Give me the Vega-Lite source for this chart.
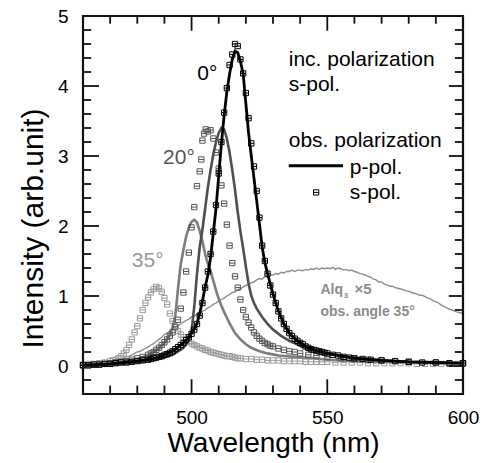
{
  "$schema": "https://vega.github.io/schema/vega-lite/v6.json",
  "width": 380,
  "height": 378,
  "autosize": "none",
  "padding": {"left": 83, "top": 16, "right": 30, "bottom": 69},
  "background": "white",
  "config": {"view": {"stroke": null}, "font": "Liberation Sans"},
  "datasets": {
    "xmajor": [{"t": 500}, {"t": 550}],
    "xminor": [{"t": 470}, {"t": 480}, {"t": 490}, {"t": 510}, {"t": 520}, {"t": 530}, {"t": 540}, {"t": 560}, {"t": 570}, {"t": 580}, {"t": 590}],
    "ymajor": [{"t": 0}, {"t": 1}, {"t": 2}, {"t": 3}, {"t": 4}],
    "yminor": [{"t": -0.2}, {"t": 0.2}, {"t": 0.4}, {"t": 0.6}, {"t": 0.8}, {"t": 1.2}, {"t": 1.4}, {"t": 1.6}, {"t": 1.8}, {"t": 2.2}, {"t": 2.4}, {"t": 2.6}, {"t": 2.8}, {"t": 3.2}, {"t": 3.4}, {"t": 3.6}, {"t": 3.8}, {"t": 4.2}, {"t": 4.4}, {"t": 4.6}, {"t": 4.8}],
    "spectra": [
      {"s":"alq","wl":460,"v":0.02},{"s":"alq","wl":461,"v":0.02},{"s":"alq","wl":462,"v":0.03},{"s":"alq","wl":463,"v":0.02},{"s":"alq","wl":464,"v":0.03},{"s":"alq","wl":465,"v":0.03},{"s":"alq","wl":466,"v":0.04},{"s":"alq","wl":467,"v":0.04},{"s":"alq","wl":468,"v":0.05},{"s":"alq","wl":469,"v":0.05},
      {"s":"alq","wl":470,"v":0.06},{"s":"alq","wl":471,"v":0.07},{"s":"alq","wl":472,"v":0.08},{"s":"alq","wl":473,"v":0.09},{"s":"alq","wl":474,"v":0.1},{"s":"alq","wl":475,"v":0.12},{"s":"alq","wl":476,"v":0.13},{"s":"alq","wl":477,"v":0.14},{"s":"alq","wl":478,"v":0.16},{"s":"alq","wl":479,"v":0.18},
      {"s":"alq","wl":480,"v":0.2},{"s":"alq","wl":481,"v":0.21},{"s":"alq","wl":482,"v":0.23},{"s":"alq","wl":483,"v":0.25},{"s":"alq","wl":484,"v":0.27},{"s":"alq","wl":485,"v":0.3},{"s":"alq","wl":486,"v":0.32},{"s":"alq","wl":487,"v":0.35},{"s":"alq","wl":488,"v":0.38},{"s":"alq","wl":489,"v":0.41},
      {"s":"alq","wl":490,"v":0.45},{"s":"alq","wl":491,"v":0.47},{"s":"alq","wl":492,"v":0.5},{"s":"alq","wl":493,"v":0.52},{"s":"alq","wl":494,"v":0.56},{"s":"alq","wl":495,"v":0.58},{"s":"alq","wl":496,"v":0.6},{"s":"alq","wl":497,"v":0.63},{"s":"alq","wl":498,"v":0.65},{"s":"alq","wl":499,"v":0.67},
      {"s":"alq","wl":500,"v":0.7},{"s":"alq","wl":501,"v":0.71},{"s":"alq","wl":502,"v":0.74},{"s":"alq","wl":503,"v":0.76},{"s":"alq","wl":504,"v":0.78},{"s":"alq","wl":505,"v":0.8},{"s":"alq","wl":506,"v":0.83},{"s":"alq","wl":507,"v":0.85},{"s":"alq","wl":508,"v":0.88},{"s":"alq","wl":509,"v":0.9},
      {"s":"alq","wl":510,"v":0.93},{"s":"alq","wl":511,"v":0.95},{"s":"alq","wl":512,"v":0.97},{"s":"alq","wl":513,"v":1.0},{"s":"alq","wl":514,"v":1.02},{"s":"alq","wl":515,"v":1.05},{"s":"alq","wl":516,"v":1.06},{"s":"alq","wl":517,"v":1.09},{"s":"alq","wl":518,"v":1.1},{"s":"alq","wl":519,"v":1.13},
      {"s":"alq","wl":520,"v":1.15},{"s":"alq","wl":521,"v":1.16},{"s":"alq","wl":522,"v":1.19},{"s":"alq","wl":523,"v":1.2},{"s":"alq","wl":524,"v":1.23},{"s":"alq","wl":525,"v":1.25},{"s":"alq","wl":526,"v":1.24},{"s":"alq","wl":527,"v":1.28},{"s":"alq","wl":528,"v":1.27},{"s":"alq","wl":529,"v":1.3},
      {"s":"alq","wl":530,"v":1.3},{"s":"alq","wl":531,"v":1.32},{"s":"alq","wl":532,"v":1.31},{"s":"alq","wl":533,"v":1.34},{"s":"alq","wl":534,"v":1.33},{"s":"alq","wl":535,"v":1.35},{"s":"alq","wl":536,"v":1.35},{"s":"alq","wl":537,"v":1.37},{"s":"alq","wl":538,"v":1.35},{"s":"alq","wl":539,"v":1.37},
      {"s":"alq","wl":540,"v":1.37},{"s":"alq","wl":541,"v":1.36},{"s":"alq","wl":542,"v":1.38},{"s":"alq","wl":543,"v":1.37},{"s":"alq","wl":544,"v":1.39},{"s":"alq","wl":545,"v":1.38},{"s":"alq","wl":546,"v":1.4},{"s":"alq","wl":547,"v":1.38},{"s":"alq","wl":548,"v":1.4},{"s":"alq","wl":549,"v":1.39},
      {"s":"alq","wl":550,"v":1.4},{"s":"alq","wl":551,"v":1.39},{"s":"alq","wl":552,"v":1.41},{"s":"alq","wl":553,"v":1.38},{"s":"alq","wl":554,"v":1.4},{"s":"alq","wl":555,"v":1.39},{"s":"alq","wl":556,"v":1.37},{"s":"alq","wl":557,"v":1.38},{"s":"alq","wl":558,"v":1.36},{"s":"alq","wl":559,"v":1.37},
      {"s":"alq","wl":560,"v":1.35},{"s":"alq","wl":561,"v":1.34},{"s":"alq","wl":562,"v":1.32},{"s":"alq","wl":563,"v":1.31},{"s":"alq","wl":564,"v":1.3},{"s":"alq","wl":565,"v":1.28},{"s":"alq","wl":566,"v":1.27},{"s":"alq","wl":567,"v":1.24},{"s":"alq","wl":568,"v":1.23},{"s":"alq","wl":569,"v":1.2},
      {"s":"alq","wl":570,"v":1.2},{"s":"alq","wl":571,"v":1.17},{"s":"alq","wl":572,"v":1.16},{"s":"alq","wl":573,"v":1.14},{"s":"alq","wl":574,"v":1.14},{"s":"alq","wl":575,"v":1.12},{"s":"alq","wl":576,"v":1.11},{"s":"alq","wl":577,"v":1.1},{"s":"alq","wl":578,"v":1.09},{"s":"alq","wl":579,"v":1.07},
      {"s":"alq","wl":580,"v":1.07},{"s":"alq","wl":581,"v":1.05},{"s":"alq","wl":582,"v":1.04},{"s":"alq","wl":583,"v":1.03},{"s":"alq","wl":584,"v":1.01},{"s":"alq","wl":585,"v":1.01},{"s":"alq","wl":586,"v":0.99},{"s":"alq","wl":587,"v":0.97},{"s":"alq","wl":588,"v":0.96},{"s":"alq","wl":589,"v":0.93},
      {"s":"alq","wl":590,"v":0.92},{"s":"alq","wl":591,"v":0.9},{"s":"alq","wl":592,"v":0.87},{"s":"alq","wl":593,"v":0.85},{"s":"alq","wl":594,"v":0.83},{"s":"alq","wl":595,"v":0.81},{"s":"alq","wl":596,"v":0.8},{"s":"alq","wl":597,"v":0.78},{"s":"alq","wl":598,"v":0.77},{"s":"alq","wl":599,"v":0.76},{"s":"alq","wl":600,"v":0.75},

      {"s":"s35","wl":460,"v":0.02},{"s":"s35","wl":462,"v":0.03},{"s":"s35","wl":464,"v":0.03},{"s":"s35","wl":466,"v":0.04},{"s":"s35","wl":468,"v":0.05},{"s":"s35","wl":470,"v":0.07},{"s":"s35","wl":471,"v":0.08},{"s":"s35","wl":472,"v":0.09},{"s":"s35","wl":473,"v":0.11},{"s":"s35","wl":474,"v":0.14},
      {"s":"s35","wl":475,"v":0.18},{"s":"s35","wl":476,"v":0.23},{"s":"s35","wl":477,"v":0.3},{"s":"s35","wl":478,"v":0.38},{"s":"s35","wl":479,"v":0.48},{"s":"s35","wl":480,"v":0.57},{"s":"s35","wl":481,"v":0.68},{"s":"s35","wl":482,"v":0.8},{"s":"s35","wl":483,"v":0.9},{"s":"s35","wl":484,"v":0.98},
      {"s":"s35","wl":485,"v":1.05},{"s":"s35","wl":486,"v":1.1},{"s":"s35","wl":487,"v":1.13},{"s":"s35","wl":488,"v":1.11},{"s":"s35","wl":489,"v":1.06},{"s":"s35","wl":490,"v":0.97},{"s":"s35","wl":491,"v":0.88},{"s":"s35","wl":492,"v":0.75},{"s":"s35","wl":493,"v":0.64},{"s":"s35","wl":494,"v":0.56},
      {"s":"s35","wl":495,"v":0.5},{"s":"s35","wl":496,"v":0.45},{"s":"s35","wl":497,"v":0.41},{"s":"s35","wl":498,"v":0.38},{"s":"s35","wl":499,"v":0.35},{"s":"s35","wl":500,"v":0.32},{"s":"s35","wl":501,"v":0.3},{"s":"s35","wl":502,"v":0.28},{"s":"s35","wl":503,"v":0.26},{"s":"s35","wl":504,"v":0.25},
      {"s":"s35","wl":505,"v":0.23},{"s":"s35","wl":506,"v":0.22},{"s":"s35","wl":507,"v":0.2},{"s":"s35","wl":508,"v":0.19},{"s":"s35","wl":509,"v":0.18},{"s":"s35","wl":510,"v":0.17},{"s":"s35","wl":511,"v":0.16},{"s":"s35","wl":512,"v":0.15},{"s":"s35","wl":513,"v":0.14},{"s":"s35","wl":514,"v":0.14},
      {"s":"s35","wl":515,"v":0.13},{"s":"s35","wl":516,"v":0.12},{"s":"s35","wl":517,"v":0.11},{"s":"s35","wl":518,"v":0.11},{"s":"s35","wl":520,"v":0.1},{"s":"s35","wl":522,"v":0.1},{"s":"s35","wl":524,"v":0.09},{"s":"s35","wl":526,"v":0.09},{"s":"s35","wl":528,"v":0.08},{"s":"s35","wl":530,"v":0.08},
      {"s":"s35","wl":532,"v":0.08},{"s":"s35","wl":534,"v":0.07},{"s":"s35","wl":536,"v":0.07},{"s":"s35","wl":538,"v":0.07},{"s":"s35","wl":540,"v":0.07},{"s":"s35","wl":542,"v":0.06},{"s":"s35","wl":544,"v":0.06},{"s":"s35","wl":546,"v":0.06},{"s":"s35","wl":548,"v":0.06},{"s":"s35","wl":550,"v":0.06},
      {"s":"s35","wl":553,"v":0.05},{"s":"s35","wl":556,"v":0.05},{"s":"s35","wl":559,"v":0.05},{"s":"s35","wl":562,"v":0.05},{"s":"s35","wl":565,"v":0.04},{"s":"s35","wl":568,"v":0.04},{"s":"s35","wl":571,"v":0.04},{"s":"s35","wl":574,"v":0.04},{"s":"s35","wl":577,"v":0.04},{"s":"s35","wl":580,"v":0.04},
      {"s":"s35","wl":583,"v":0.03},{"s":"s35","wl":586,"v":0.03},{"s":"s35","wl":589,"v":0.03},{"s":"s35","wl":592,"v":0.03},{"s":"s35","wl":595,"v":0.03},{"s":"s35","wl":598,"v":0.03},{"s":"s35","wl":600,"v":0.03},

      {"s":"p35","wl":460,"v":0.01},{"s":"p35","wl":465,"v":0.02},{"s":"p35","wl":470,"v":0.04},{"s":"p35","wl":475,"v":0.06},{"s":"p35","wl":480,"v":0.1},{"s":"p35","wl":485,"v":0.17},{"s":"p35","wl":488,"v":0.25},{"s":"p35","wl":490,"v":0.33},{"s":"p35","wl":492,"v":0.45},{"s":"p35","wl":493,"v":0.55},
      {"s":"p35","wl":494,"v":0.72},{"s":"p35","wl":495,"v":1.1},{"s":"p35","wl":496,"v":1.45},{"s":"p35","wl":497,"v":1.66},{"s":"p35","wl":498,"v":1.85},{"s":"p35","wl":499,"v":1.98},{"s":"p35","wl":500,"v":2.06},{"s":"p35","wl":501,"v":2.09},{"s":"p35","wl":502,"v":2.05},{"s":"p35","wl":503,"v":1.93},
      {"s":"p35","wl":504,"v":1.78},{"s":"p35","wl":505,"v":1.6},{"s":"p35","wl":506,"v":1.46},{"s":"p35","wl":507,"v":1.36},{"s":"p35","wl":508,"v":1.22},{"s":"p35","wl":509,"v":1.08},{"s":"p35","wl":510,"v":0.96},{"s":"p35","wl":511,"v":0.86},{"s":"p35","wl":512,"v":0.77},{"s":"p35","wl":513,"v":0.69},
      {"s":"p35","wl":514,"v":0.61},{"s":"p35","wl":515,"v":0.54},{"s":"p35","wl":516,"v":0.47},{"s":"p35","wl":518,"v":0.38},{"s":"p35","wl":520,"v":0.31},{"s":"p35","wl":522,"v":0.26},{"s":"p35","wl":525,"v":0.21},{"s":"p35","wl":528,"v":0.18},{"s":"p35","wl":532,"v":0.15},{"s":"p35","wl":538,"v":0.13},
      {"s":"p35","wl":545,"v":0.11},{"s":"p35","wl":550,"v":0.09},{"s":"p35","wl":560,"v":0.07},{"s":"p35","wl":570,"v":0.06},{"s":"p35","wl":580,"v":0.05},{"s":"p35","wl":590,"v":0.04},{"s":"p35","wl":600,"v":0.04},

      {"s":"s20","wl":460,"v":0.01},{"s":"s20","wl":462,"v":0.01},{"s":"s20","wl":464,"v":0.02},{"s":"s20","wl":466,"v":0.02},{"s":"s20","wl":468,"v":0.03},{"s":"s20","wl":470,"v":0.04},{"s":"s20","wl":472,"v":0.05},{"s":"s20","wl":474,"v":0.06},{"s":"s20","wl":476,"v":0.07},{"s":"s20","wl":478,"v":0.09},
      {"s":"s20","wl":480,"v":0.11},{"s":"s20","wl":482,"v":0.13},{"s":"s20","wl":484,"v":0.16},{"s":"s20","wl":485,"v":0.18},{"s":"s20","wl":486,"v":0.2},{"s":"s20","wl":487,"v":0.23},{"s":"s20","wl":488,"v":0.26},{"s":"s20","wl":489,"v":0.3},{"s":"s20","wl":490,"v":0.34},{"s":"s20","wl":491,"v":0.38},
      {"s":"s20","wl":492,"v":0.43},{"s":"s20","wl":493,"v":0.48},{"s":"s20","wl":494,"v":0.56},{"s":"s20","wl":495,"v":0.66},{"s":"s20","wl":496,"v":0.82},{"s":"s20","wl":497,"v":1.05},{"s":"s20","wl":498,"v":1.35},{"s":"s20","wl":499,"v":1.62},{"s":"s20","wl":500,"v":1.98},{"s":"s20","wl":501,"v":2.27},
      {"s":"s20","wl":502,"v":2.57},{"s":"s20","wl":503,"v":2.78},{"s":"s20","wl":503.6,"v":2.95},{"s":"s20","wl":504,"v":3.22},{"s":"s20","wl":504.6,"v":3.32},{"s":"s20","wl":505.2,"v":3.38},{"s":"s20","wl":506,"v":3.35},{"s":"s20","wl":507,"v":3.37},{"s":"s20","wl":508,"v":3.25},{"s":"s20","wl":509,"v":3.05},
      {"s":"s20","wl":510,"v":2.82},{"s":"s20","wl":511,"v":2.58},{"s":"s20","wl":512,"v":2.32},{"s":"s20","wl":513,"v":2.02},{"s":"s20","wl":514,"v":1.72},{"s":"s20","wl":515,"v":1.47},{"s":"s20","wl":516,"v":1.28},{"s":"s20","wl":517,"v":1.12},{"s":"s20","wl":518,"v":0.95},{"s":"s20","wl":519,"v":0.8},
      {"s":"s20","wl":520,"v":0.7},{"s":"s20","wl":521,"v":0.62},{"s":"s20","wl":522,"v":0.55},{"s":"s20","wl":523,"v":0.48},{"s":"s20","wl":524,"v":0.43},{"s":"s20","wl":525,"v":0.39},{"s":"s20","wl":526,"v":0.36},{"s":"s20","wl":527,"v":0.33},{"s":"s20","wl":528,"v":0.31},{"s":"s20","wl":529,"v":0.29},
      {"s":"s20","wl":530,"v":0.28},{"s":"s20","wl":532,"v":0.25},{"s":"s20","wl":534,"v":0.23},{"s":"s20","wl":536,"v":0.21},{"s":"s20","wl":538,"v":0.2},{"s":"s20","wl":540,"v":0.18},{"s":"s20","wl":543,"v":0.16},{"s":"s20","wl":546,"v":0.15},{"s":"s20","wl":550,"v":0.13},{"s":"s20","wl":555,"v":0.11},
      {"s":"s20","wl":560,"v":0.1},{"s":"s20","wl":565,"v":0.09},{"s":"s20","wl":570,"v":0.08},{"s":"s20","wl":580,"v":0.06},{"s":"s20","wl":590,"v":0.05},{"s":"s20","wl":600,"v":0.04},

      {"s":"p20","wl":460,"v":0.01},{"s":"p20","wl":465,"v":0.01},{"s":"p20","wl":470,"v":0.02},{"s":"p20","wl":475,"v":0.03},{"s":"p20","wl":480,"v":0.05},{"s":"p20","wl":485,"v":0.08},{"s":"p20","wl":490,"v":0.12},{"s":"p20","wl":493,"v":0.16},{"s":"p20","wl":495,"v":0.21},{"s":"p20","wl":497,"v":0.26},
      {"s":"p20","wl":498,"v":0.31},{"s":"p20","wl":499,"v":0.38},{"s":"p20","wl":500,"v":0.5},{"s":"p20","wl":501,"v":0.85},{"s":"p20","wl":502,"v":1.32},{"s":"p20","wl":503,"v":1.7},{"s":"p20","wl":504,"v":1.95},{"s":"p20","wl":505,"v":2.25},{"s":"p20","wl":506,"v":2.55},{"s":"p20","wl":507,"v":2.8},
      {"s":"p20","wl":508,"v":3.02},{"s":"p20","wl":509,"v":3.2},{"s":"p20","wl":510,"v":3.33},{"s":"p20","wl":511,"v":3.4},{"s":"p20","wl":512,"v":3.38},{"s":"p20","wl":513,"v":3.25},{"s":"p20","wl":514,"v":3.05},{"s":"p20","wl":515,"v":2.8},{"s":"p20","wl":516,"v":2.52},{"s":"p20","wl":517,"v":2.2},
      {"s":"p20","wl":518,"v":1.92},{"s":"p20","wl":519,"v":1.68},{"s":"p20","wl":520,"v":1.42},{"s":"p20","wl":521,"v":1.18},{"s":"p20","wl":522,"v":1.0},{"s":"p20","wl":523,"v":0.9},{"s":"p20","wl":524,"v":0.82},{"s":"p20","wl":526,"v":0.7},{"s":"p20","wl":528,"v":0.6},{"s":"p20","wl":530,"v":0.52},
      {"s":"p20","wl":533,"v":0.43},{"s":"p20","wl":536,"v":0.36},{"s":"p20","wl":540,"v":0.29},{"s":"p20","wl":545,"v":0.23},{"s":"p20","wl":550,"v":0.18},{"s":"p20","wl":555,"v":0.15},{"s":"p20","wl":560,"v":0.12},{"s":"p20","wl":570,"v":0.08},{"s":"p20","wl":580,"v":0.06},{"s":"p20","wl":590,"v":0.05},{"s":"p20","wl":600,"v":0.04},

      {"s":"s0","wl":460,"v":0.01},{"s":"s0","wl":462,"v":0.01},{"s":"s0","wl":464,"v":0.02},{"s":"s0","wl":466,"v":0.02},{"s":"s0","wl":468,"v":0.03},{"s":"s0","wl":470,"v":0.03},{"s":"s0","wl":472,"v":0.04},{"s":"s0","wl":474,"v":0.05},{"s":"s0","wl":476,"v":0.05},{"s":"s0","wl":478,"v":0.06},
      {"s":"s0","wl":480,"v":0.07},{"s":"s0","wl":482,"v":0.08},{"s":"s0","wl":484,"v":0.09},{"s":"s0","wl":485,"v":0.1},{"s":"s0","wl":486,"v":0.11},{"s":"s0","wl":487,"v":0.12},{"s":"s0","wl":488,"v":0.13},{"s":"s0","wl":489,"v":0.14},{"s":"s0","wl":490,"v":0.16},{"s":"s0","wl":491,"v":0.17},
      {"s":"s0","wl":492,"v":0.19},{"s":"s0","wl":493,"v":0.21},{"s":"s0","wl":494,"v":0.24},{"s":"s0","wl":495,"v":0.27},{"s":"s0","wl":496,"v":0.3},{"s":"s0","wl":497,"v":0.33},{"s":"s0","wl":498,"v":0.37},{"s":"s0","wl":499,"v":0.41},{"s":"s0","wl":500,"v":0.46},{"s":"s0","wl":501,"v":0.52},
      {"s":"s0","wl":502,"v":0.6},{"s":"s0","wl":503,"v":0.72},{"s":"s0","wl":504,"v":0.9},{"s":"s0","wl":505,"v":1.12},{"s":"s0","wl":506,"v":1.35},{"s":"s0","wl":507,"v":1.6},{"s":"s0","wl":508,"v":1.92},{"s":"s0","wl":509,"v":2.3},{"s":"s0","wl":510,"v":2.75},{"s":"s0","wl":511,"v":3.2},
      {"s":"s0","wl":512,"v":3.62},{"s":"s0","wl":513,"v":3.97},{"s":"s0","wl":514,"v":4.3},{"s":"s0","wl":515,"v":4.45},{"s":"s0","wl":516,"v":4.6},{"s":"s0","wl":517,"v":4.57},{"s":"s0","wl":518,"v":4.38},{"s":"s0","wl":519,"v":4.18},{"s":"s0","wl":520,"v":3.9},{"s":"s0","wl":521,"v":3.54},
      {"s":"s0","wl":522,"v":3.18},{"s":"s0","wl":523,"v":2.85},{"s":"s0","wl":524,"v":2.5},{"s":"s0","wl":525,"v":2.12},{"s":"s0","wl":526,"v":1.72},{"s":"s0","wl":527,"v":1.5},{"s":"s0","wl":528,"v":1.32},{"s":"s0","wl":529,"v":1.15},{"s":"s0","wl":530,"v":1.02},{"s":"s0","wl":531,"v":0.9},
      {"s":"s0","wl":532,"v":0.78},{"s":"s0","wl":533,"v":0.68},{"s":"s0","wl":534,"v":0.6},{"s":"s0","wl":535,"v":0.53},{"s":"s0","wl":536,"v":0.47},{"s":"s0","wl":537,"v":0.43},{"s":"s0","wl":538,"v":0.39},{"s":"s0","wl":539,"v":0.36},{"s":"s0","wl":540,"v":0.33},{"s":"s0","wl":541,"v":0.31},
      {"s":"s0","wl":542,"v":0.28},{"s":"s0","wl":543,"v":0.26},{"s":"s0","wl":544,"v":0.24},{"s":"s0","wl":545,"v":0.23},{"s":"s0","wl":546,"v":0.22},{"s":"s0","wl":547,"v":0.21},{"s":"s0","wl":548,"v":0.2},{"s":"s0","wl":549,"v":0.19},{"s":"s0","wl":550,"v":0.18},{"s":"s0","wl":552,"v":0.16},
      {"s":"s0","wl":554,"v":0.15},{"s":"s0","wl":556,"v":0.13},{"s":"s0","wl":558,"v":0.12},{"s":"s0","wl":560,"v":0.11},{"s":"s0","wl":563,"v":0.1},{"s":"s0","wl":566,"v":0.09},{"s":"s0","wl":570,"v":0.08},{"s":"s0","wl":575,"v":0.07},{"s":"s0","wl":580,"v":0.06},{"s":"s0","wl":585,"v":0.05},
      {"s":"s0","wl":590,"v":0.05},{"s":"s0","wl":595,"v":0.04},{"s":"s0","wl":600,"v":0.04},

      {"s":"p0","wl":460,"v":0.01},{"s":"p0","wl":465,"v":0.02},{"s":"p0","wl":470,"v":0.03},{"s":"p0","wl":475,"v":0.05},{"s":"p0","wl":480,"v":0.07},{"s":"p0","wl":485,"v":0.1},{"s":"p0","wl":488,"v":0.13},{"s":"p0","wl":490,"v":0.16},{"s":"p0","wl":492,"v":0.2},{"s":"p0","wl":494,"v":0.24},
      {"s":"p0","wl":496,"v":0.3},{"s":"p0","wl":498,"v":0.37},{"s":"p0","wl":500,"v":0.47},{"s":"p0","wl":501,"v":0.53},{"s":"p0","wl":502,"v":0.61},{"s":"p0","wl":503,"v":0.75},{"s":"p0","wl":504,"v":0.93},{"s":"p0","wl":505,"v":1.13},{"s":"p0","wl":506,"v":1.3},{"s":"p0","wl":507,"v":1.55},
      {"s":"p0","wl":508,"v":1.9},{"s":"p0","wl":509,"v":2.25},{"s":"p0","wl":510,"v":2.72},{"s":"p0","wl":511,"v":3.18},{"s":"p0","wl":512,"v":3.58},{"s":"p0","wl":513,"v":3.92},{"s":"p0","wl":514,"v":4.17},{"s":"p0","wl":515,"v":4.38},{"s":"p0","wl":516,"v":4.5},{"s":"p0","wl":517,"v":4.48},
      {"s":"p0","wl":518,"v":4.35},{"s":"p0","wl":519,"v":4.18},{"s":"p0","wl":520,"v":3.75},{"s":"p0","wl":521,"v":3.33},{"s":"p0","wl":522,"v":3.0},{"s":"p0","wl":523,"v":2.68},{"s":"p0","wl":524,"v":2.36},{"s":"p0","wl":525,"v":2.03},{"s":"p0","wl":526,"v":1.7},{"s":"p0","wl":527,"v":1.48},
      {"s":"p0","wl":528,"v":1.32},{"s":"p0","wl":529,"v":1.17},{"s":"p0","wl":530,"v":1.03},{"s":"p0","wl":531,"v":0.9},{"s":"p0","wl":532,"v":0.79},{"s":"p0","wl":534,"v":0.6},{"s":"p0","wl":536,"v":0.47},{"s":"p0","wl":538,"v":0.39},{"s":"p0","wl":540,"v":0.33},{"s":"p0","wl":542,"v":0.28},
      {"s":"p0","wl":545,"v":0.23},{"s":"p0","wl":550,"v":0.18},{"s":"p0","wl":555,"v":0.14},{"s":"p0","wl":560,"v":0.11},{"s":"p0","wl":570,"v":0.08},{"s":"p0","wl":580,"v":0.06},{"s":"p0","wl":590,"v":0.05},{"s":"p0","wl":600,"v":0.04}
    ]
  },
  "data": {"name": "spectra"},
  "layer": [
    {
      "transform": [{"filter": "datum.s === 'alq'"}],
      "mark": {"type": "line", "color": "#8c8c8c", "strokeWidth": 1.4},
      "encoding": {
        "x": {"field": "wl", "type": "quantitative",
          "scale": {"domain": [460, 600], "nice": false, "zero": false},
          "axis": {"orient": "bottom", "values": [500, 550, 600], "format": "d", "ticks": false, "domain": false,
            "labelFont": "Liberation Sans", "labelFontSize": 19, "labelColor": "black", "labelPadding": 14, "labelFlush": false, "labelOverlap": false,
            "grid": false, "title": "Wavelength (nm)", "titleFont": "Liberation Sans", "titleFontSize": 28, "titleFontWeight": "normal", "titleColor": "black",
            "titleBaseline": "alphabetic", "titleY": 57}},
        "y": {"field": "v", "type": "quantitative",
          "scale": {"domain": [-0.4, 5], "nice": false, "zero": false},
          "axis": {"orient": "left", "values": [0, 1, 2, 3, 4, 5], "format": "d", "ticks": false, "domain": false,
            "labelFont": "Liberation Sans", "labelFontSize": 19, "labelColor": "black", "labelPadding": 15, "labelFlush": false, "labelOverlap": false,
            "grid": false, "title": "Intensity (arb.unit)", "titleFont": "Liberation Sans", "titleFontSize": 30, "titleFontWeight": "normal", "titleColor": "black",
            "titleBaseline": "alphabetic", "titleAngle": 270, "titleAlign": "center", "titleX": -41, "titleY": 212}}
      }
    },
    {
      "transform": [{"filter": "datum.s === 's35'"}],
      "mark": {"type": "point", "shape": "M-1,-1L1,-1L1,1L-1,1Z M-1,0L1,0", "filled": false, "color": "#9a9a9a", "size": 28, "strokeWidth": 1, "opacity": 1},
      "encoding": {"x": {"field": "wl", "type": "quantitative"}, "y": {"field": "v", "type": "quantitative"}}
    },
    {
      "transform": [{"filter": "datum.s === 'p35'"}],
      "mark": {"type": "line", "color": "#7d7d7d", "strokeWidth": 2.6},
      "encoding": {"x": {"field": "wl", "type": "quantitative"}, "y": {"field": "v", "type": "quantitative"}}
    },
    {
      "transform": [{"filter": "datum.s === 's20'"}],
      "mark": {"type": "point", "shape": "M-1,-1L1,-1L1,1L-1,1Z M-1,0L1,0", "filled": false, "color": "#555555", "size": 28, "strokeWidth": 1, "opacity": 1},
      "encoding": {"x": {"field": "wl", "type": "quantitative"}, "y": {"field": "v", "type": "quantitative"}}
    },
    {
      "transform": [{"filter": "datum.s === 'p20'"}],
      "mark": {"type": "line", "color": "#4f4f4f", "strokeWidth": 2.6},
      "encoding": {"x": {"field": "wl", "type": "quantitative"}, "y": {"field": "v", "type": "quantitative"}}
    },
    {
      "transform": [{"filter": "datum.s === 's0'"}],
      "mark": {"type": "point", "shape": "M-1,-1L1,-1L1,1L-1,1Z M-1,0L1,0", "filled": false, "color": "#000000", "size": 28, "strokeWidth": 1, "opacity": 1},
      "encoding": {"x": {"field": "wl", "type": "quantitative"}, "y": {"field": "v", "type": "quantitative"}}
    },
    {
      "transform": [{"filter": "datum.s === 'p0'"}],
      "mark": {"type": "line", "color": "#000000", "strokeWidth": 2.8},
      "encoding": {"x": {"field": "wl", "type": "quantitative"}, "y": {"field": "v", "type": "quantitative"}}
    },
    {
      "data": {"values": [{}]},
      "mark": {"type": "rect", "fill": null, "stroke": "#111111", "strokeWidth": 2.2},
      "encoding": {"x": {"datum": 460, "type": "quantitative"}, "x2": {"datum": 600}, "y": {"datum": -0.4, "type": "quantitative"}, "y2": {"datum": 5}}
    },
    {
      "data": {"name": "xmajor"},
      "mark": {"type": "rule", "color": "#111111", "strokeWidth": 1.8},
      "encoding": {"x": {"field": "t", "type": "quantitative"}, "y": {"datum": -0.4, "type": "quantitative"}, "y2": {"datum": -0.19}}
    },
    {
      "data": {"name": "xmajor"},
      "mark": {"type": "rule", "color": "#111111", "strokeWidth": 1.8},
      "encoding": {"x": {"field": "t", "type": "quantitative"}, "y": {"datum": 5, "type": "quantitative"}, "y2": {"datum": 4.79}}
    },
    {
      "data": {"name": "xminor"},
      "mark": {"type": "rule", "color": "#111111", "strokeWidth": 1.8},
      "encoding": {"x": {"field": "t", "type": "quantitative"}, "y": {"datum": -0.4, "type": "quantitative"}, "y2": {"datum": -0.28}}
    },
    {
      "data": {"name": "xminor"},
      "mark": {"type": "rule", "color": "#111111", "strokeWidth": 1.8},
      "encoding": {"x": {"field": "t", "type": "quantitative"}, "y": {"datum": 5, "type": "quantitative"}, "y2": {"datum": 4.89}}
    },
    {
      "data": {"name": "ymajor"},
      "mark": {"type": "rule", "color": "#111111", "strokeWidth": 1.8},
      "encoding": {"y": {"field": "t", "type": "quantitative"}, "x": {"datum": 460, "type": "quantitative"}, "x2": {"datum": 465.9}}
    },
    {
      "data": {"name": "ymajor"},
      "mark": {"type": "rule", "color": "#111111", "strokeWidth": 1.8},
      "encoding": {"y": {"field": "t", "type": "quantitative"}, "x": {"datum": 600, "type": "quantitative"}, "x2": {"datum": 594.8}}
    },
    {
      "data": {"name": "yminor"},
      "mark": {"type": "rule", "color": "#111111", "strokeWidth": 1.8},
      "encoding": {"y": {"field": "t", "type": "quantitative"}, "x": {"datum": 460, "type": "quantitative"}, "x2": {"datum": 463}}
    },
    {
      "data": {"name": "yminor"},
      "mark": {"type": "rule", "color": "#111111", "strokeWidth": 1.8},
      "encoding": {"y": {"field": "t", "type": "quantitative"}, "x": {"datum": 600, "type": "quantitative"}, "x2": {"datum": 597}}
    },
    {
      "data": {"values": [{}]},
      "mark": {"type": "text", "text": "inc. polarization", "align": "left", "baseline": "alphabetic", "font": "Liberation Sans", "fontSize": 21, "color": "black"},
      "encoding": {"x": {"datum": 535.8, "type": "quantitative"}, "y": {"datum": 4.28, "type": "quantitative"}}
    },
    {
      "data": {"values": [{}]},
      "mark": {"type": "text", "text": "s-pol.", "align": "left", "baseline": "alphabetic", "font": "Liberation Sans", "fontSize": 21, "color": "black"},
      "encoding": {"x": {"datum": 535.8, "type": "quantitative"}, "y": {"datum": 3.93, "type": "quantitative"}}
    },
    {
      "data": {"values": [{}]},
      "mark": {"type": "text", "text": "obs. polarization", "align": "left", "baseline": "alphabetic", "font": "Liberation Sans", "fontSize": 21, "color": "black"},
      "encoding": {"x": {"datum": 535.8, "type": "quantitative"}, "y": {"datum": 3.13, "type": "quantitative"}}
    },
    {
      "data": {"values": [{}]},
      "mark": {"type": "rule", "color": "black", "strokeWidth": 3},
      "encoding": {"x": {"datum": 535.8, "type": "quantitative"}, "x2": {"datum": 555.8}, "y": {"datum": 2.86, "type": "quantitative"}}
    },
    {
      "data": {"values": [{}]},
      "mark": {"type": "text", "text": "p-pol.", "align": "left", "baseline": "alphabetic", "font": "Liberation Sans", "fontSize": 21, "color": "black"},
      "encoding": {"x": {"datum": 558.3, "type": "quantitative"}, "y": {"datum": 2.75, "type": "quantitative"}}
    },
    {
      "data": {"values": [{}]},
      "mark": {"type": "point", "shape": "M-1,-1L1,-1L1,1L-1,1Z M-1,0L1,0", "filled": false, "color": "#000000", "size": 28, "strokeWidth": 1, "opacity": 1},
      "encoding": {"x": {"datum": 545.9, "type": "quantitative"}, "y": {"datum": 2.48, "type": "quantitative"}}
    },
    {
      "data": {"values": [{}]},
      "mark": {"type": "text", "text": "s-pol.", "align": "left", "baseline": "alphabetic", "font": "Liberation Sans", "fontSize": 21, "color": "black"},
      "encoding": {"x": {"datum": 558.3, "type": "quantitative"}, "y": {"datum": 2.38, "type": "quantitative"}}
    },
    {
      "data": {"values": [{}]},
      "mark": {"type": "text", "text": "0°", "align": "left", "baseline": "alphabetic", "font": "Liberation Sans", "fontSize": 21, "color": "black"},
      "encoding": {"x": {"datum": 502.1, "type": "quantitative"}, "y": {"datum": 4.09, "type": "quantitative"}}
    },
    {
      "data": {"values": [{}]},
      "mark": {"type": "text", "text": "20°", "align": "left", "baseline": "alphabetic", "font": "Liberation Sans", "fontSize": 21, "color": "#555555"},
      "encoding": {"x": {"datum": 489.5, "type": "quantitative"}, "y": {"datum": 2.89, "type": "quantitative"}}
    },
    {
      "data": {"values": [{}]},
      "mark": {"type": "text", "text": "35°", "align": "left", "baseline": "alphabetic", "font": "Liberation Sans", "fontSize": 21, "color": "#999999"},
      "encoding": {"x": {"datum": 478.0, "type": "quantitative"}, "y": {"datum": 1.41, "type": "quantitative"}}
    },
    {
      "data": {"values": [{}]},
      "mark": {"type": "text", "text": "Alq", "align": "left", "baseline": "alphabetic", "font": "Liberation Sans", "fontSize": 14, "fontWeight": "bold", "color": "#8c8c8c"},
      "encoding": {"x": {"datum": 547.5, "type": "quantitative"}, "y": {"datum": 1.03, "type": "quantitative"}}
    },
    {
      "data": {"values": [{}]},
      "mark": {"type": "text", "text": "3", "align": "left", "baseline": "alphabetic", "font": "Liberation Sans", "fontSize": 8, "fontWeight": "bold", "color": "#8c8c8c"},
      "encoding": {"x": {"datum": 556.1, "type": "quantitative"}, "y": {"datum": 0.97, "type": "quantitative"}}
    },
    {
      "data": {"values": [{}]},
      "mark": {"type": "text", "text": "×5", "align": "left", "baseline": "alphabetic", "font": "Liberation Sans", "fontSize": 15, "fontWeight": "bold", "color": "#8c8c8c"},
      "encoding": {"x": {"datum": 560.0, "type": "quantitative"}, "y": {"datum": 1.03, "type": "quantitative"}}
    },
    {
      "data": {"values": [{}]},
      "mark": {"type": "text", "text": "obs. angle 35°", "align": "left", "baseline": "alphabetic", "font": "Liberation Sans", "fontSize": 14, "fontWeight": "bold", "color": "#8c8c8c"},
      "encoding": {"x": {"datum": 547.5, "type": "quantitative"}, "y": {"datum": 0.71, "type": "quantitative"}}
    }
  ]
}
